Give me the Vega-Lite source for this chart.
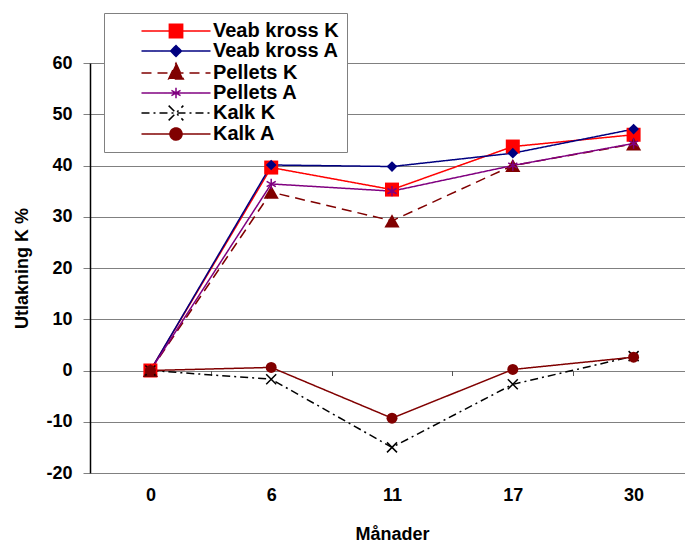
{
  "$schema": "https://vega.github.io/schema/vega-lite/v6.json",
  "width": 595,
  "height": 410,
  "autosize": {"type": "none"},
  "padding": {"left": 90, "top": 63, "right": 0, "bottom": 70},
  "background": "white",
  "config": {
    "view": {"stroke": null},
    "font": "Liberation Sans",
    "axis": {"labelFont": "Liberation Sans", "titleFont": "Liberation Sans", "labelFontWeight": "bold", "titleFontWeight": "bold", "labelColor": "black", "titleColor": "black"}
  },
  "data": {
    "values": [
      {"month": "0", "series": "Veab kross K", "value": 0},
      {"month": "6", "series": "Veab kross K", "value": 39.6},
      {"month": "11", "series": "Veab kross K", "value": 35.3},
      {"month": "17", "series": "Veab kross K", "value": 43.7},
      {"month": "30", "series": "Veab kross K", "value": 46.0},
      {"month": "0", "series": "Veab kross A", "value": 0},
      {"month": "6", "series": "Veab kross A", "value": 40.1},
      {"month": "11", "series": "Veab kross A", "value": 39.8},
      {"month": "17", "series": "Veab kross A", "value": 42.4},
      {"month": "30", "series": "Veab kross A", "value": 47.1},
      {"month": "0", "series": "Pellets K", "value": 0},
      {"month": "6", "series": "Pellets K", "value": 34.8},
      {"month": "11", "series": "Pellets K", "value": 29.2},
      {"month": "17", "series": "Pellets K", "value": 40.0},
      {"month": "30", "series": "Pellets K", "value": 44.2},
      {"month": "0", "series": "Pellets A", "value": 0},
      {"month": "6", "series": "Pellets A", "value": 36.4},
      {"month": "11", "series": "Pellets A", "value": 35.0},
      {"month": "17", "series": "Pellets A", "value": 40.0},
      {"month": "30", "series": "Pellets A", "value": 44.3},
      {"month": "0", "series": "Kalk K", "value": 0},
      {"month": "6", "series": "Kalk K", "value": -1.7},
      {"month": "11", "series": "Kalk K", "value": -15.0},
      {"month": "17", "series": "Kalk K", "value": -2.7},
      {"month": "30", "series": "Kalk K", "value": 2.8},
      {"month": "0", "series": "Kalk A", "value": 0},
      {"month": "6", "series": "Kalk A", "value": 0.6},
      {"month": "11", "series": "Kalk A", "value": -9.3},
      {"month": "17", "series": "Kalk A", "value": 0.2},
      {"month": "30", "series": "Kalk A", "value": 2.6}
    ]
  },
  "encoding": {
    "x": {
      "field": "month", "type": "ordinal", "bandPosition": 0.5,
      "sort": ["0", "6", "11", "17", "30"],
      "scale": {"type": "band", "domain": ["0", "6", "11", "17", "30"], "range": [0, 604], "paddingInner": 0, "paddingOuter": 0},
      "axis": {"title": "Månader", "orient": "bottom", "offset": -102.5, "domain": false, "grid": false, "ticks": true, "tickBand": "extent", "tickSize": 5, "tickColor": "#555555", "labelAngle": 0, "labelPadding": 111, "labelFontSize": 18, "titleFontSize": 18, "titlePadding": 21}
    },
    "y": {
      "field": "value", "type": "quantitative",
      "scale": {"domain": [-20, 60], "nice": false, "zero": false},
      "axis": {"title": "Utlakning K %", "values": [-20, -10, 0, 10, 20, 30, 40, 50, 60], "labelExpr": "'' + datum.value", "grid": true, "gridColor": "#808080", "gridWidth": 1, "domainColor": "black", "domainWidth": 1.5, "tickColor": "#808080", "tickSize": 7, "labelPadding": 11, "labelFontSize": 18, "titleFontSize": 18, "titlePadding": 14}
    },
    "color": {
      "field": "series", "type": "nominal",
      "scale": {"domain": ["Veab kross K", "Veab kross A", "Pellets K", "Pellets A", "Kalk K", "Kalk A"], "range": ["#FF0000", "#000080", "#800000", "#800080", "#000000", "#800000"]},
      "legend": {
        "title": null, "orient": "none", "legendX": 14, "legendY": -50,
        "padding": 8, "rowPadding": -1, "strokeColor": "#808080", "fillColor": "white",
        "labelFont": "Liberation Sans", "labelFontWeight": "bold", "labelFontSize": 20, "labelColor": "black", "labelOffset": 27,
        "symbolSize": 196, "symbolOffset": 54, "symbolStrokeWidth": 1.5,
        "encode": {
          "symbols": {
            "update": {
              "size": {"value": 196},
              "opacity": {"value": 1},
              "shape": {"signal": "datum.value === 'Veab kross K' ? 'M-4.93,0H4.93M-0.95,-0.95H0.95V0.95H-0.95Z' : datum.value === 'Veab kross A' ? 'M-4.93,0H4.93M0,-0.78L0.78,0L0,0.78L-0.78,0Z' : datum.value === 'Pellets K' ? 'M-4.93,0H4.93M0,-1.4L1.05,0.85H-1.05Z' : datum.value === 'Pellets A' ? 'M-4.93,0H4.93M0,-0.75V0.75M-0.65,-0.375L0.65,0.375M-0.65,0.375L0.65,-0.375' : datum.value === 'Kalk K' ? 'M-4.93,0H4.93M-1.05,-1.05L1.05,1.05M-1.05,1.05L1.05,-1.05' : 'M-4.93,0H4.93M0.86,0A0.86,0.86,0,1,1,-0.86,0A0.86,0.86,0,1,1,0.86,0Z'"},
              "fill": {"signal": "datum.value === 'Veab kross K' ? '#FF0000' : datum.value === 'Veab kross A' ? '#000080' : datum.value === 'Pellets K' ? '#800000' : datum.value === 'Kalk A' ? '#800000' : 'transparent'"},
              "stroke": {"signal": "datum.value === 'Veab kross K' ? '#FF0000' : datum.value === 'Veab kross A' ? '#000080' : datum.value === 'Pellets K' ? '#800000' : datum.value === 'Pellets A' ? '#800080' : datum.value === 'Kalk K' ? '#000000' : '#800000'"}
            }
          }
        }
      }
    }
  },
  "layer": [
    {
      "mark": {"type": "line", "strokeWidth": 1.5},
      "encoding": {
        "strokeDash": {
          "field": "series", "type": "nominal", "legend": null,
          "scale": {"domain": ["Veab kross K", "Veab kross A", "Pellets K", "Pellets A", "Kalk K", "Kalk A"], "range": [[1, 0], [1, 0], [10, 6], [1, 0], [8, 4, 2, 4], [1, 0]]}
        },
        "strokeWidth": {
          "field": "series", "type": "nominal", "legend": null,
          "scale": {"domain": ["Veab kross K", "Veab kross A", "Pellets K", "Pellets A", "Kalk K", "Kalk A"], "range": [1.5, 1.5, 2.5, 1.5, 2, 1.5]}
        }
      }
    },
    {
      "transform": [{"filter": {"field": "series", "equal": "Veab kross K"}}],
      "mark": {"type": "point", "filled": true, "opacity": 1, "shape": "square", "size": 196}
    },
    {
      "transform": [{"filter": {"field": "series", "equal": "Veab kross A"}}],
      "mark": {"type": "point", "filled": true, "opacity": 1, "shape": "diamond", "size": 115}
    },
    {
      "transform": [{"filter": {"field": "series", "equal": "Pellets K"}}],
      "mark": {"type": "point", "filled": true, "opacity": 1, "shape": "triangle-up", "size": 230}
    },
    {
      "transform": [{"filter": {"field": "series", "equal": "Pellets A"}}],
      "mark": {"type": "point", "filled": false, "opacity": 1, "strokeWidth": 1.5, "shape": "M0,-1V1M-0.87,-0.5L0.87,0.5M-0.87,0.5L0.87,-0.5", "size": 110}
    },
    {
      "transform": [{"filter": {"field": "series", "equal": "Kalk K"}}],
      "mark": {"type": "point", "filled": false, "opacity": 1, "strokeWidth": 1.5, "shape": "M-1,-1L1,1M-1,1L1,-1", "size": 100}
    },
    {
      "transform": [{"filter": {"field": "series", "equal": "Kalk A"}}],
      "mark": {"type": "point", "filled": true, "opacity": 1, "shape": "circle", "size": 120}
    }
  ]
}
